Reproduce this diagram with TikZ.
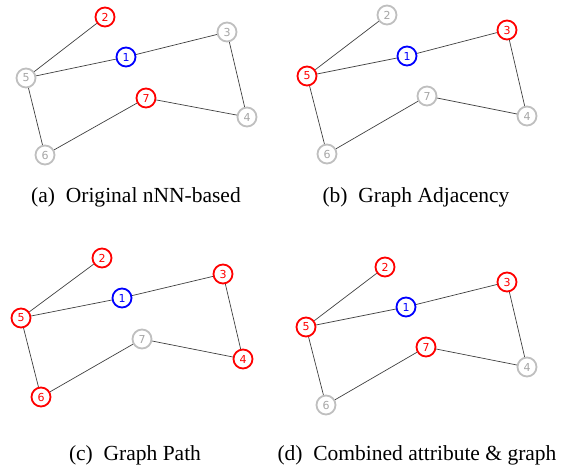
\documentclass[tikz,border=0pt]{standalone}
\usepackage{fontspec}
\setmainfont{Liberation Serif}
\newfontfamily\numfont{DejaVu Sans}
\tikzset{
  gnode/.style={circle, line width=1.8pt, minimum size=19pt, inner sep=0pt, fill=white,
    font=\numfont\fontsize{11}{11}\selectfont},
  nred/.style={gnode, draw=red, text=red},
  nblue/.style={gnode, draw=blue, text=blue},
  ngray/.style={gnode, draw=black!25, text=black!35},
  edge/.style={draw=black!75, line width=0.7pt},
  caption/.style={font=\fontsize{21.5}{26}\selectfont}
}
\begin{document}
\begin{tikzpicture}[x=1pt, y=-1pt]
    \useasboundingbox (0,0) rectangle (561,470);

    % (a) original nNN-based
    \node[nblue] (a1) at (126,57) {1};
    \node[nred]  (a2) at (105,17) {2};
    \node[ngray] (a3) at (227,32) {3};
    \node[ngray] (a4) at (247,117) {4};
    \node[ngray] (a5) at (26,78) {5};
    \node[ngray] (a6) at (45,155) {6};
    \node[nred]  (a7) at (146,98) {7};
    \node[caption] (capa) at (136,197) {(a)\hspace{0.5em}Original nNN-based};

    % (b) graph adjacency
    \node[nblue] (b1) at (407,56) {1};
    \node[ngray] (b2) at (387,15) {2};
    \node[nred]  (b3) at (507,30) {3};
    \node[ngray] (b4) at (527,116) {4};
    \node[nred]  (b5) at (307,76) {5};
    \node[ngray] (b6) at (327,154) {6};
    \node[ngray] (b7) at (427,96) {7};
    \node[caption] (capb) at (416,197) {(b)\hspace{0.5em}Graph Adjacency};

    % (c) graph path
    \node[nblue] (c1) at (122,298) {1};
    \node[nred]  (c2) at (102,258) {2};
    \node[nred]  (c3) at (223,274) {3};
    \node[nred]  (c4) at (243,359) {4};
    \node[nred]  (c5) at (21,318) {5};
    \node[nred]  (c6) at (41,397) {6};
    \node[ngray] (c7) at (142,339) {7};
    \node[caption] (capc) at (135,455) {(c)\hspace{0.5em}Graph Path};

    % (d) combined attribute & graph
    \node[nblue] (d1) at (406,307) {1};
    \node[nred]  (d2) at (385,267) {2};
    \node[nred]  (d3) at (507,282) {3};
    \node[ngray] (d4) at (527,367) {4};
    \node[nred]  (d5) at (306,327) {5};
    \node[ngray] (d6) at (326,405) {6};
    \node[nred]  (d7) at (426,347) {7};
    \node[caption] (capd) at (417,455) {(d)\hspace{0.5em}Combined attribute \& graph};

    % same edges in every panel
    \foreach \p in {a,b,c,d}
      \foreach \u/\v in {2/5, 5/1, 1/3, 3/4, 4/7, 7/6, 6/5}
        \draw[edge] (\p\u) -- (\p\v);
\end{tikzpicture}
\end{document}
